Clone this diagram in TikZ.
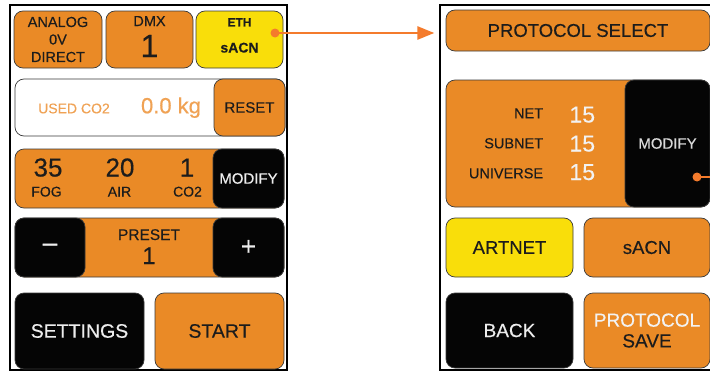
\documentclass[tikz,border=0pt]{standalone}
\usepackage{fontspec}
\setmainfont{Liberation Sans}[FakeBold=0.35]
\usetikzlibrary{arrows.meta}
\definecolor{org}{HTML}{EA8A26}
\definecolor{ylw}{HTML}{F9DE0A}
\definecolor{blk}{HTML}{050505}
\definecolor{ink}{HTML}{1C1C1C}
\definecolor{edge}{HTML}{3A3A3A}
\definecolor{lnk}{HTML}{F47B2C}
\definecolor{pale}{HTML}{F0A254}
\newcommand{\fsz}[1]{\fontsize{#1}{#1}\selectfont}

\begin{document}
\begin{tikzpicture}[x=1pt, y=-1pt,
    scrn/.style={draw=black, line width=1.3pt},
    btn/.style={draw=edge, line width=0.7pt, rounded corners=9pt, inner sep=0pt},
    ob/.style={btn, fill=org, text=ink},
    yb/.style={btn, fill=ylw, text=ink},
    bb/.style={btn, fill=blk, text=white!93!black},
    txt/.style={inner sep=0pt, text=ink},
    dot/.style={circle, fill=lnk, inner sep=0pt, minimum size=9pt},
    link/.style={draw=lnk, line width=2.6pt}]
    \clip (0,0) rectangle (710,372);
    \node[scrn, minimum width=277pt, minimum height=365pt] (lp) at (148.5,187.5) {};
    \node[ob, minimum width=88pt, minimum height=57pt, align=center, font=\fontsize{14.5}{17.5}\selectfont] (analog) at (58,39.5) {ANALOG\\0V\\DIRECT};
    \node[ob, minimum width=87pt, minimum height=57pt] (dmx) at (149.5,39.5) {};
    \node[txt, anchor=base, font=\fsz{14.5}] (dmxt) at (149.5,26) {DMX};
    \node[txt, anchor=base, font=\fsz{32}] (dmxv) at (149.5,57) {1};
    \node[yb, minimum width=87pt, minimum height=57pt] (eth) at (239.5,39.5) {};
    \node[txt, anchor=base, font=\fsz{12}\bfseries] (etht) at (239.5,26.5) {ETH};
    \node[txt, anchor=base, font=\fsz{14}\bfseries] (ethv) at (239.5,52.5) {sACN};
    \node[btn, fill=white, minimum width=270pt, minimum height=57pt] (co2box) at (150,107.5) {};
    \node[ob, minimum width=71pt, minimum height=57pt, font=\fsz{15}] (reset) at (249.5,107.5) {RESET};
    \node[txt, anchor=base, text=pale, font=\fsz{14}] (used) at (74,113.3) {USED CO2};
    \node[txt, anchor=base, text=pale, font=\fsz{22}] (kg) at (171,113.3) {0.0 kg};
    \node[ob, minimum width=269pt, minimum height=59pt] (fogrow) at (149.5,178.5) {};
    \node[bb, minimum width=71pt, minimum height=59pt, font=\fsz{15}] (modl) at (248.5,178.5) {MODIFY};
    \node[txt, anchor=base, font=\fsz{26}] (fogv) at (48,176.5) {35};
    \node[txt, anchor=base, font=\fsz{26}] (airv) at (120,176.5) {20};
    \node[txt, anchor=base, font=\fsz{26}] (co2v) at (187,176.5) {1};
    \node[txt, anchor=base, font=\fsz{14}] (fogt) at (46.5,196.5) {FOG};
    \node[txt, anchor=base, font=\fsz{14}] (airt) at (119.5,196.5) {AIR};
    \node[txt, anchor=base, font=\fsz{14}] (co2t) at (187.5,196.5) {CO2};
    \node[ob, minimum width=269pt, minimum height=59pt] (prow) at (149.5,247.5) {};
    \node[bb, minimum width=70pt, minimum height=59pt, font=\fsz{26}] (minus) at (50,247.5) {–};
    \node[bb, minimum width=71pt, minimum height=59pt, font=\fsz{26}] (plus) at (248.5,247.5) {+};
    \node[txt, anchor=base, font=\fsz{15.5}] (prest) at (149,240) {PRESET};
    \node[txt, anchor=base, font=\fsz{24}] (presv) at (149,264) {1};
    \node[bb, minimum width=129pt, minimum height=76pt, font=\fsz{19.5}] (settings) at (79.5,331) {SETTINGS};
    \node[ob, minimum width=129pt, minimum height=76pt, font=\fsz{19.5}] (start) at (219.5,331) {START};
    \node[scrn, minimum width=274pt, minimum height=365pt] (rp) at (577,187.5) {};
    \node[ob, minimum width=264pt, minimum height=41pt, font=\fsz{18.5}] (psel) at (578,30.5) {PROTOCOL SELECT};
    \node[ob, minimum width=264pt, minimum height=127pt] (netbox) at (578,143.5) {};
    \node[bb, minimum width=85pt, minimum height=127pt, text=white!85!black, font=\fsz{15}] (modr) at (667.5,143.5) {MODIFY};
    \node[txt, anchor=base east, font=\fsz{14.5}] (nett) at (543.3,118.3) {NET};
    \node[txt, anchor=base east, font=\fsz{14.5}] (subt) at (543.3,148.3) {SUBNET};
    \node[txt, anchor=base east, font=\fsz{14.5}] (unit) at (543.3,178.3) {UNIVERSE};
    \node[txt, anchor=base, text=white!95!black, font=\fsz{23}] (netv) at (582.3,122.5) {15};
    \node[txt, anchor=base, text=white!95!black, font=\fsz{23}] (subv) at (582.3,151.5) {15};
    \node[txt, anchor=base, text=white!95!black, font=\fsz{23}] (univ) at (582.3,180) {15};
    \node[yb, minimum width=127pt, minimum height=59pt, font=\fsz{18.5}] (artnet) at (509.5,247.5) {ARTNET};
    \node[ob, minimum width=126pt, minimum height=59pt, font=\fsz{18.5}] (sacn) at (647,247.5) {sACN};
    \node[bb, minimum width=127pt, minimum height=75pt, font=\fsz{19}] (back) at (509.5,330.5) {BACK};
    \node[ob, minimum width=126pt, minimum height=75pt, align=center, font=\fontsize{19}{20.7}\selectfont] (psave) at (647,330.5) {{\color{white!95!black}PROTOCOL}\\SAVE};
    \node[dot] (ethd) at (275,33) {};
    \node[dot] (modd) at (697,177) {};
    \coordinate (modout) at (716,177);
    \draw[link, -{Triangle[length=17pt,width=13pt]}, shorten >=5pt] (ethd.center) -- (ethd.center -| rp.west);
    \draw[link] (modd.center) -- (modout);
  \end{tikzpicture}
\end{document}
